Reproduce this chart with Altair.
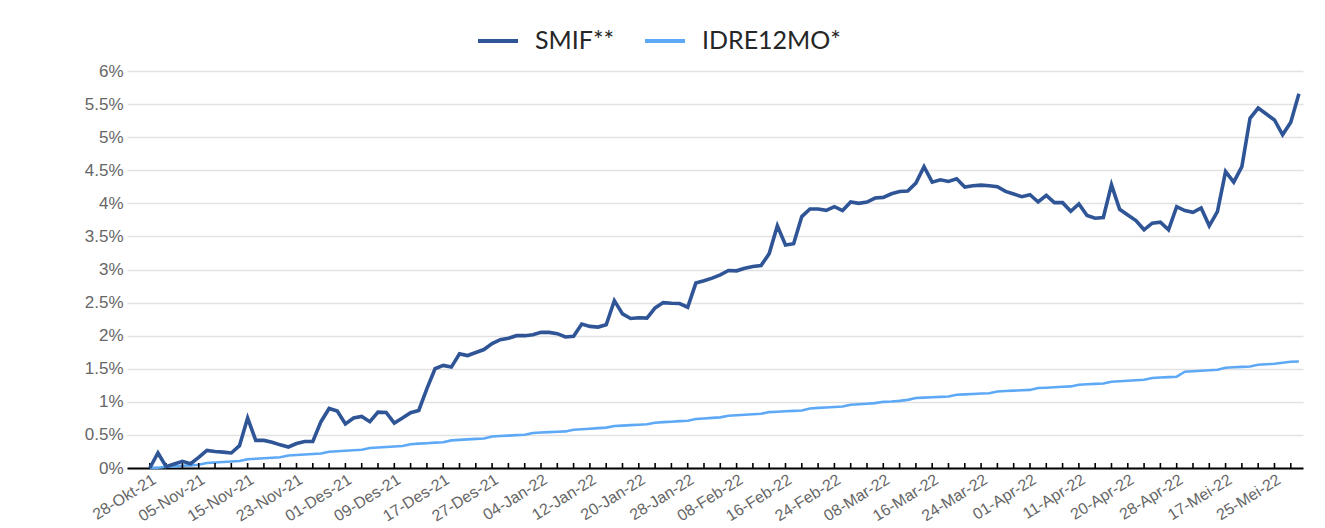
import json
import altair as alt
import pandas as pd

# ---- data ----
series_names = ["SMIF**", "IDRE12MO*"]
series_colors = ["#2F5597", "#5EA9F6"]

x_labels = ["28-Okt-21", "05-Nov-21", "15-Nov-21", "23-Nov-21", "01-Des-21", "09-Des-21",
            "17-Des-21", "27-Des-21", "04-Jan-22", "12-Jan-22", "20-Jan-22", "28-Jan-22",
            "08-Feb-22", "16-Feb-22", "24-Feb-22", "08-Mar-22", "16-Mar-22", "24-Mar-22",
            "01-Apr-22", "11-Apr-22", "20-Apr-22", "28-Apr-22", "17-Mei-22", "25-Mei-22"]
label_every = 6   # data points between two date labels
tick_every = 2    # data points between two axis ticks

y_ticks = [0, 0.5, 1, 1.5, 2, 2.5, 3, 3.5, 4, 4.5, 5, 5.5, 6]

smif = [0.00, 0.227, 0.02, 0.06, 0.10, 0.065, 0.16, 0.266, 0.25, 0.24,
        0.227, 0.337, 0.755, 0.417, 0.417, 0.39, 0.35, 0.317, 0.37, 0.40,
        0.40, 0.70, 0.90, 0.86, 0.665, 0.755, 0.78, 0.70, 0.845, 0.84,
        0.68, 0.755, 0.835, 0.87, 1.20, 1.50, 1.55, 1.525, 1.725, 1.70,
        1.745, 1.79, 1.88, 1.94, 1.96, 2.00, 2.00, 2.015, 2.05, 2.05,
        2.03, 1.98, 1.99, 2.175, 2.14, 2.13, 2.165, 2.53, 2.33, 2.26,
        2.27, 2.265, 2.42, 2.50, 2.49, 2.485, 2.43, 2.795, 2.83, 2.87,
        2.92, 2.985, 2.98, 3.02, 3.045, 3.06, 3.24, 3.66, 3.37, 3.39,
        3.80, 3.915, 3.915, 3.895, 3.95, 3.89, 4.02, 4.00, 4.02, 4.08,
        4.09, 4.145, 4.18, 4.185, 4.305, 4.555, 4.32, 4.355, 4.33, 4.37,
        4.245, 4.265, 4.275, 4.265, 4.25, 4.18, 4.14, 4.10, 4.13, 4.02,
        4.12, 4.01, 4.01, 3.88, 3.99, 3.815, 3.775, 3.785, 4.28, 3.91,
        3.825, 3.74, 3.60, 3.70, 3.715, 3.60, 3.95, 3.89, 3.865, 3.93,
        3.66, 3.875, 4.48, 4.32, 4.555, 5.285, 5.44, 5.35, 5.26, 5.035,
        5.225, 5.655]

idre = [0.000, 0.005, 0.018, 0.025, 0.033, 0.040, 0.048, 0.075, 0.083, 0.090,
        0.098, 0.105, 0.132, 0.140, 0.147, 0.155, 0.162, 0.189, 0.196, 0.204,
        0.211, 0.219, 0.246, 0.253, 0.261, 0.268, 0.276, 0.303, 0.310, 0.318,
        0.326, 0.333, 0.360, 0.368, 0.375, 0.383, 0.390, 0.417, 0.425, 0.432,
        0.440, 0.447, 0.477, 0.484, 0.490, 0.497, 0.503, 0.530, 0.536, 0.542,
        0.548, 0.553, 0.578, 0.586, 0.594, 0.602, 0.610, 0.635, 0.641, 0.648,
        0.654, 0.660, 0.685, 0.693, 0.700, 0.708, 0.715, 0.740, 0.748, 0.757,
        0.765, 0.790, 0.798, 0.805, 0.813, 0.820, 0.845, 0.851, 0.858, 0.864,
        0.870, 0.900, 0.908, 0.915, 0.923, 0.930, 0.955, 0.963, 0.972, 0.980,
        1.000, 1.005, 1.015, 1.030, 1.057, 1.063, 1.069, 1.075, 1.080, 1.107,
        1.113, 1.119, 1.125, 1.130, 1.157, 1.163, 1.169, 1.175, 1.180, 1.208,
        1.214, 1.220, 1.227, 1.233, 1.258, 1.265, 1.272, 1.278, 1.304, 1.312,
        1.319, 1.327, 1.334, 1.360, 1.367, 1.373, 1.380, 1.455, 1.463, 1.470,
        1.478, 1.485, 1.515, 1.522, 1.528, 1.535, 1.560, 1.568, 1.575, 1.590,
        1.605, 1.610]

n = len(smif)
df = pd.DataFrame({
    "idx": list(range(n)) * 2,
    "value": smif + idre,
    "series": [series_names[0]] * n + [series_names[1]] * n,
})
label_pos = list(range(0, len(x_labels) * label_every, label_every))
tick_df = pd.DataFrame({"idx": list(range(0, n, tick_every))})

W, H = 1176, 397
AXIS_FONT = "Liberation Sans"
AXIS_COLOR = "#666666"

x_enc = alt.X(
    "idx:Q",
    scale=alt.Scale(domain=[-2.8, 141.5], nice=False, zero=False),
    axis=alt.Axis(
        values=label_pos,
        labelExpr=json.dumps(x_labels) + "[round(datum.value / %d)]" % label_every,
        labelAngle=328, labelAlign="right", labelBaseline="top", labelPadding=3,
        labelFont=AXIS_FONT, labelFontSize=16, labelColor=AXIS_COLOR,
        labelOverlap=False, labelBound=False, labelFlush=False,
        ticks=False, grid=False, domainColor="#000000", domainWidth=2, title=None,
    ),
)
y_axis = alt.Axis(
    values=y_ticks, labelExpr="datum.value + '%'",
    labelFont=AXIS_FONT, labelFontSize=17, labelColor=AXIS_COLOR, labelPadding=4,
    grid=True, gridColor="#e2e2e2", gridWidth=1.5, domain=False, ticks=False,
    minExtent=100, maxExtent=100, title=None,
)
y_enc = alt.Y("value:Q", scale=alt.Scale(domain=[0, 6], nice=False), axis=y_axis)

color = alt.Color(
    "series:N",
    scale=alt.Scale(domain=series_names, range=series_colors),
    legend=alt.Legend(
        title=None, orient="none", legendX=349, legendY=-52, direction="horizontal",
        symbolType="stroke", symbolSize=1600, symbolStrokeWidth=4,
        labelFont="Lato", labelFontSize=25, labelColor="#262626",
        labelOffset=15, columnPadding=22, labelLimit=0,
    ),
)

base = alt.Chart(df)
idre_line = base.transform_filter(alt.datum.series == series_names[1]).mark_line(
    strokeWidth=2.6).encode(x=x_enc, y=y_enc, color=color)
smif_line = base.transform_filter(alt.datum.series == series_names[0]).mark_line(
    strokeWidth=3.6).encode(x=x_enc, y=y_enc, color=color)
ticks = alt.Chart(tick_df).mark_rule(color="#000000", strokeWidth=1.6).encode(
    x=x_enc, y=alt.Y(datum=0, type="quantitative", axis=y_axis), y2=alt.value(H - 5))

chart = alt.layer(idre_line, ticks, smif_line).properties(
    width=W, height=H,
    padding={"left": 19, "top": 11, "right": 10, "bottom": 0},
    background="#ffffff",
).configure_view(stroke=None)

chart.save("out.html", embed_options={"renderer": "svg", "actions": False})
